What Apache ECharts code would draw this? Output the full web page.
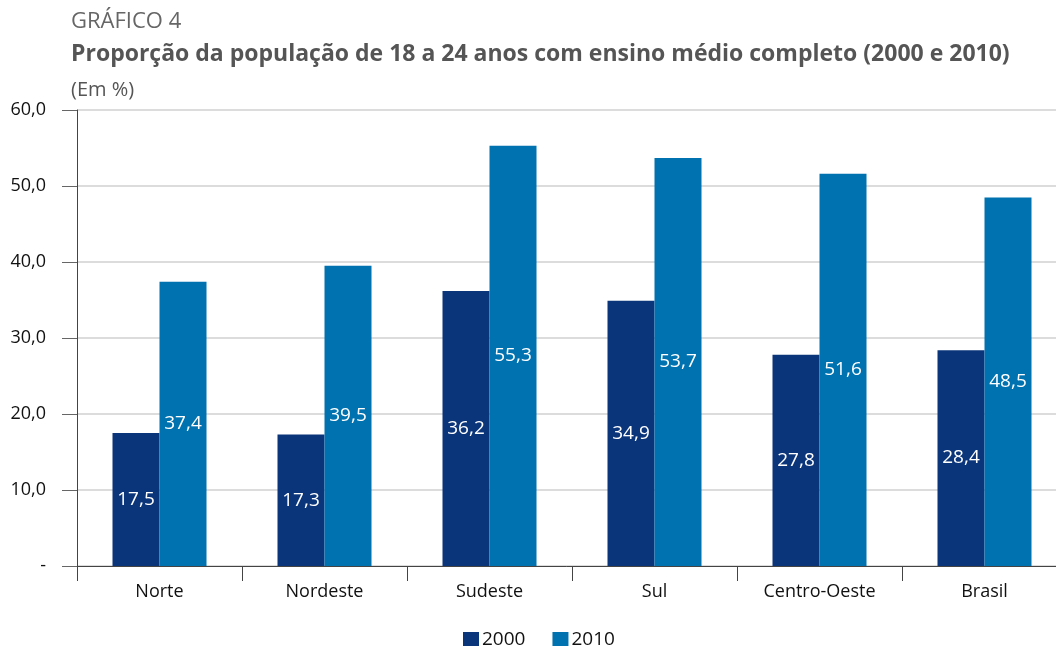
<!DOCTYPE html>
<html>
<head>
<meta charset="utf-8">
<script src="https://cdn.jsdelivr.net/npm/echarts@6/dist/echarts.min.js"></script>
<style>
  html, body { margin: 0; padding: 0; background: #fff; }
  #chart { width: 1056px; height: 646px; }
</style>
</head>
<body>
<div id="chart"></div>
<script>
// dados
const categories = ['Norte', 'Nordeste', 'Sudeste', 'Sul', 'Centro-Oeste', 'Brasil']
const values2000 = [17.5, 17.3, 36.2, 34.9, 27.8, 28.4]
const values2010 = [37.4, 39.5, 55.3, 53.7, 51.6, 48.5]
const seriesNames = ['2000', '2010']

const fmt = v => v.toFixed(1).replace('.', ',')
const font = '"Open Sans", "Noto Sans", sans-serif'

const chart = echarts.init(document.getElementById('chart'))

const barLabel = {
  show: true,
  position: 'inside',
  color: '#fff',
  fontSize: 19,
  fontFamily: font,
  formatter: p => fmt(p.value)
}

chart.setOption({
  animation: false,
  backgroundColor: '#fff',
  textStyle: { fontFamily: font },
  title: [
    {
      text: 'GRÁFICO 4',
      left: 66, top: 6,
      textStyle: { fontSize: 22, fontWeight: 'normal', color: '#666', fontFamily: font }
    },
    {
      text: 'Proporção da população de 18 a 24 anos com ensino médio completo (2000 e 2010)',
      left: 66, top: 38,
      textStyle: { fontSize: 23, fontWeight: 'bold', color: '#555', fontFamily: font }
    },
    {
      text: '(Em %)',
      left: 66, top: 75,
      textStyle: { fontSize: 20, fontWeight: 'normal', color: '#555', fontFamily: font }
    }
  ],
  legend: {
    data: seriesNames,
    left: 463, top: 630, padding: 0,
    icon: 'rect',
    itemWidth: 16, itemHeight: 15, itemGap: 27,
    textStyle: { fontSize: 19, color: '#111', lineHeight: 18, padding: [0, 0, 0, -2] }
  },
  grid: { left: 77, right: -11, top: 110, bottom: 80, outerBoundsMode: 'none' },
  xAxis: {
    type: 'category',
    data: categories,
    axisLine: { lineStyle: { color: '#444', width: 1 } },
    axisTick: { show: true, length: 15, lineStyle: { color: '#444' } },
    axisLabel: { fontSize: 18, color: '#111', margin: 17 }
  },
  yAxis: {
    type: 'value',
    min: 0, max: 60, interval: 10,
    axisLine: { show: true, lineStyle: { color: '#444', width: 1 } },
    axisTick: { show: true, length: 15, lineStyle: { color: '#666' } },
    axisLabel: {
      fontSize: 18, color: '#111', margin: 31,
      formatter: v => v === 0 ? '-' : fmt(v)
    },
    splitLine: { lineStyle: { color: '#dcdcdc', width: 2 } }
  },
  series: [
    {
      name: seriesNames[0], type: 'bar', data: values2000,
      barWidth: 47, barGap: '0%',
      itemStyle: { color: '#0b357a' },
      label: barLabel
    },
    {
      name: seriesNames[1], type: 'bar', data: values2010,
      barWidth: 47,
      itemStyle: { color: '#0072b0' },
      label: barLabel
    }
  ]
})
</script>
</body>
</html>
